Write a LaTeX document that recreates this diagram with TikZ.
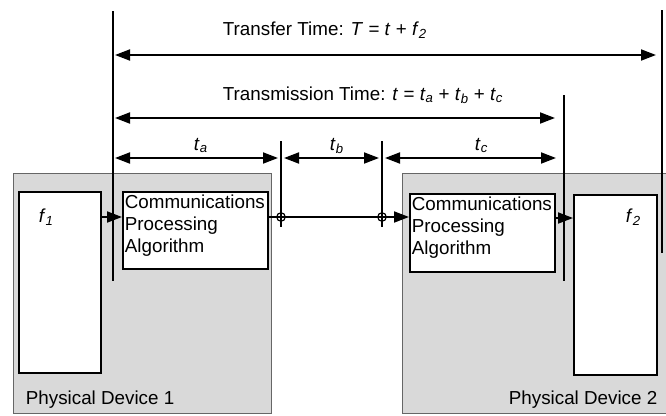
\documentclass[tikz,border=0pt]{standalone}
\usepackage{fontspec}
\setmainfont{Liberation Sans}
\usetikzlibrary{arrows.meta}
\begin{document}
\begin{tikzpicture}[x=1pt,y=-1pt,line width=1.8pt,
  tri/.tip={Triangle[length=15pt,width=11pt]},
  tip/.style={-tri},
  dim/.style={tri-tri},
  dev/.style={draw=black!60,line width=1pt,fill=black!15,anchor=north west,inner sep=0},
  blk/.style={draw,fill=white,line width=1.8pt,anchor=north west,inner sep=0},
  txt/.style={anchor=base west,inner sep=0,font=\fontsize{18.8}{22}\selectfont},
  ring/.style={draw,circle,minimum size=8.5pt,inner sep=0,line width=1.2pt}]
\useasboundingbox (0,0) rectangle (666,415);
% devices
\node[dev,minimum width=258,minimum height=240] (dev1) at (13,173) {};
\node[dev,minimum width=278,minimum height=240] (dev2) at (402,173) {};
% blocks
\node[blk,minimum width=82,minimum height=181] (f1box) at (18,191) {};
\node[blk,minimum width=145,minimum height=77] (comm1) at (122,191) {};
\node[blk,minimum width=145,minimum height=78] (comm2) at (409,193) {};
\node[blk,minimum width=83,minimum height=180] (f2box) at (573,194) {};
% texts in blocks
\node[txt,align=left,anchor=north west] (comm1t) at (124,194) {Communications\\Processing\\Algorithm};
\node[txt,align=left,anchor=north west] (comm2t) at (411,196) {Communications\\Processing\\Algorithm};
\node[txt] (f1t) at (38,222) {\textit{f}\textsubscript{\textit{1}}};
\node[txt] (f2t) at (625,222) {\textit{f}\textsubscript{\textit{2}}};
\node[txt] (pd1) at (25,404) {Physical Device 1};
\node[txt] (pd2) at (508,404) {Physical Device 2};
% vertical lines
\coordinate (l1a) at (113,11);  \coordinate (l1b) at (113,281);
\coordinate (l2a) at (281,141); \coordinate (l2b) at (281,227);
\coordinate (l3a) at (382,141); \coordinate (l3b) at (382,227);
\coordinate (l4a) at (564,95);  \coordinate (l4b) at (564,281);
\coordinate (l5a) at (662,10);  \coordinate (l5b) at (662,253);
\draw (l1a) -- (l1b);
\draw (l2a) -- (l2b);
\draw (l3a) -- (l3b);
\draw (l4a) -- (l4b);
\draw (l5a) -- (l5b);
% dimension arrows
\coordinate (T1) at (115,55);  \coordinate (T2) at (656,55);
\coordinate (S1) at (115,118); \coordinate (S2) at (555,118);
\coordinate (A1) at (115,158); \coordinate (A2) at (278,158);
\coordinate (B1) at (284,158); \coordinate (B2) at (379,158);
\coordinate (C1) at (385,158); \coordinate (C2) at (556,158);
\draw[dim] (T1) -- (T2);
\draw[dim] (S1) -- (S2);
\draw[dim] (A1) -- (A2);
\draw[dim] (B1) -- (B2);
\draw[dim] (C1) -- (C2);
% dimension labels
\node[txt] (Tl) at (222,35) {Transfer Time: \textit{T} = \textit{t} + \textit{f}\textsubscript{\textit{2}}};
\node[txt] (Sl) at (222,100) {Transmission Time: \textit{t} = \textit{t}\textsubscript{\textit{a}} + \textit{t}\textsubscript{\textit{b}} + \textit{t}\textsubscript{\textit{c}}};
\node[txt] (Al) at (193,150) {\textit{t}\textsubscript{\textit{a}}};
\node[txt] (Bl) at (329,150) {\textit{t}\textsubscript{\textit{b}}};
\node[txt] (Cl) at (474,150) {\textit{t}\textsubscript{\textit{c}}};
% signal path
\node[ring] (r1) at (281,217) {};
\node[ring] (r2) at (382,217) {};
\draw[tip] (f1box.east |- 0,217) -- (comm1.west |- 0,217);
\draw (comm1.east |- r1) -- (r1.center) -- (r2.center);
\draw[tip] (r2.center) -- (comm2.west |- r2);
\draw[tip] (comm2.east |- 0,218) -- (f2box.west |- 0,218);
\end{tikzpicture}
\end{document}
